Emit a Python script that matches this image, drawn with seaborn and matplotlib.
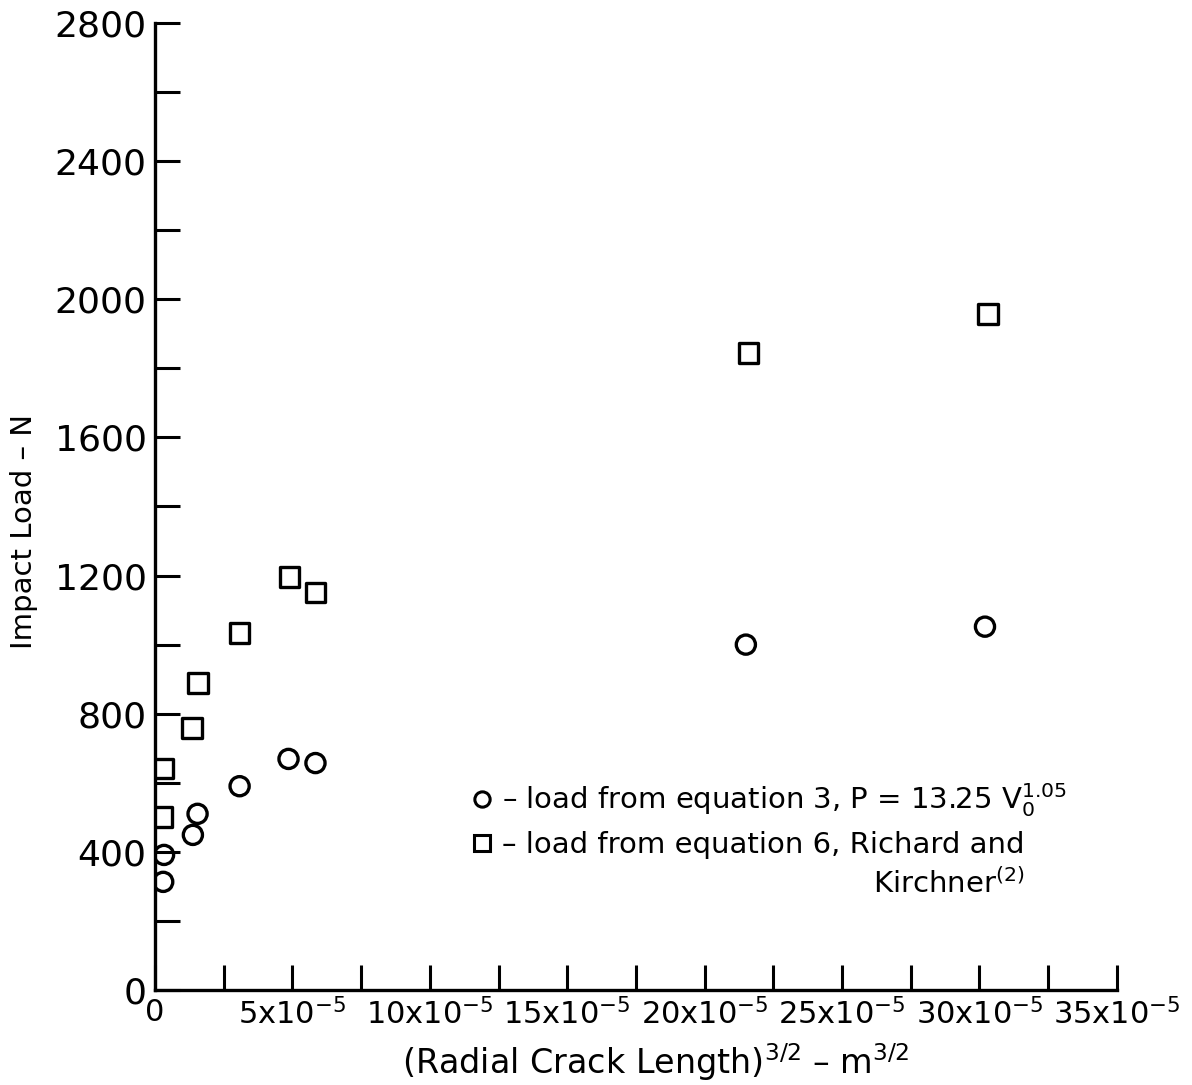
import matplotlib
matplotlib.use("Agg")
import matplotlib.pyplot as plt
from matplotlib.lines import Line2D
import seaborn as sns
import pandas as pd

# Radial crack length^(3/2), in units of 1e-5 m^(3/2)
crack_eq3 = [0.30, 0.33, 1.38, 1.55, 3.08, 4.86, 5.84, 21.5, 30.2]
load_eq3 = [313, 391, 449, 510, 590, 669, 657, 1000, 1052]

crack_eq6 = [0.25, 0.30, 1.34, 1.56, 3.08, 4.90, 5.84, 21.6, 30.3]
load_eq6 = [501, 641, 758, 888, 1034, 1195, 1151, 1844, 1958]

x_ticks = [0, 2.5, 5, 7.5, 10, 12.5, 15, 17.5, 20, 22.5, 25, 27.5, 30, 32.5, 35]
x_labels = ["0", "", "5x10$^{-5}$", "", "10x10$^{-5}$", "", "15x10$^{-5}$", "",
            "20x10$^{-5}$", "", "25x10$^{-5}$", "", "30x10$^{-5}$", "", "35x10$^{-5}$"]
y_ticks = list(range(0, 2801, 200))
y_labels = [str(v) if v % 400 == 0 else "" for v in y_ticks]

sns.set_theme(style="white")
plt.rcParams["font.family"] = ["DejaVu Sans"]
plt.rcParams["mathtext.default"] = "regular"
plt.rcParams["text.color"] = "black"
plt.rcParams["axes.labelcolor"] = "black"

df = pd.concat([
    pd.DataFrame({"crack": crack_eq3, "load": load_eq3, "source": "eq3"}),
    pd.DataFrame({"crack": crack_eq6, "load": load_eq6, "source": "eq6"}),
])

fig = plt.figure(figsize=(11.92, 10.85), dpi=100)
ax = fig.add_axes([0.130, 0.0876, 0.807, 0.8912])

sub3 = df[df.source == "eq3"]
sub6 = df[df.source == "eq6"]
sns.scatterplot(data=sub3, x="crack", y="load", marker="o", s=190,
                color="black", linewidth=2.4, ax=ax, legend=False, zorder=3)
sns.scatterplot(data=sub6, x="crack", y="load", marker="s", s=200,
                color="black", linewidth=2.4, ax=ax, legend=False, zorder=3)
for coll in ax.collections:
    coll.set_facecolor("none")
    coll.set_edgecolor("black")

ax.set_xlim(0, 35)
ax.set_ylim(0, 2800)
ax.set_xticks(x_ticks)
ax.set_xticklabels(x_labels, fontsize=22)
ax.set_yticks(y_ticks)
ax.set_yticklabels(y_labels, fontsize=26)

for side in ("top", "right"):
    ax.spines[side].set_visible(False)
for side in ("left", "bottom"):
    ax.spines[side].set_linewidth(2.4)
    ax.spines[side].set_color("black")

ax.tick_params(axis="both", direction="in", length=18, width=2.2,
               color="black", labelcolor="black")
ax.tick_params(axis="x", pad=6)
ax.tick_params(axis="y", pad=6)
ax.tick_params(left=True, bottom=True)

ax.set_xlabel("(Radial Crack Length)$^{3/2}$ – m$^{3/2}$", fontsize=24)
ax.set_ylabel("Impact Load – N", fontsize=21)
ax.xaxis.set_label_coords(0.52, -0.053)
ax.yaxis.set_label_coords(-0.122, 0.474)

handles = [
    Line2D([], [], marker="o", linestyle="none", markersize=11,
           markerfacecolor="none", markeredgecolor="black", markeredgewidth=2.2),
    Line2D([], [], marker="s", linestyle="none", markersize=12,
           markerfacecolor="none", markeredgecolor="black", markeredgewidth=2.2),
]
labels = [
    "– load from equation 3, P = 13.25 V$_0^{1.05}$",
    "– load from equation 6, Richard and",
]
leg = ax.legend(handles, labels, loc="upper left", bbox_to_anchor=(0.317, 0.228),
                frameon=False, fontsize=21, handlelength=0.7, handletextpad=0.35,
                labelspacing=0.4, borderaxespad=0)

# Continuation line of the second entry, right-aligned under its first line
fig.canvas.draw()
bb = leg.get_texts()[1].get_window_extent()
x_right, y_base = ax.transAxes.inverted().transform((bb.x1, bb.y0))
ax.text(x_right, y_base - 0.010, "Kirchner$^{(2)}$", transform=ax.transAxes,
        ha="right", va="top", fontsize=21)

fig.savefig("out.png", dpi=100)
